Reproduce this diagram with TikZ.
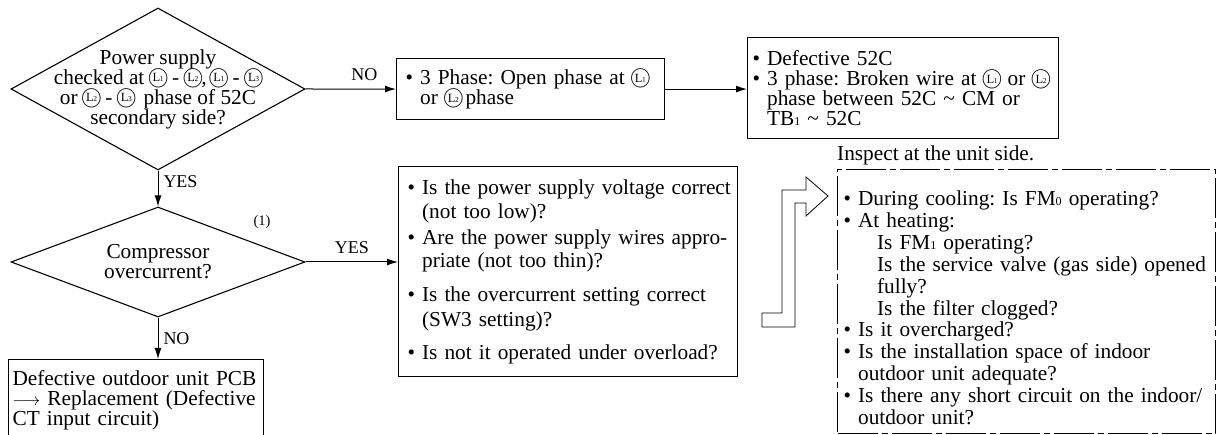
\documentclass[tikz,border=0pt]{standalone}
\usepackage{fontspec}
\setmainfont{Liberation Serif}
\usetikzlibrary{shapes.geometric,arrows.meta}
\frenchspacing

% circled phase letter, e.g. \cL1
\newcommand\cL[1]{\makebox[17pt]{\makebox[0pt]{\raisebox{1pt}{\fontsize{22}{22}\selectfont$\bigcirc$}}\makebox[0pt]{\raisebox{2.4pt}{\fontsize{12.5}{12.5}\selectfont L\kern-0.4pt{\fontsize{7.5}{7.5}\selectfont#1}}}}}
\newcommand\smallsub[1]{{\fontsize{12}{12}\selectfont#1}}
\newcommand\bulind{\phantom{\textbullet\ }}

\begin{document}
\begin{tikzpicture}[x=1pt,y=-1pt,
	every node/.style={font=\fontsize{21.3}{20}\selectfont},
	decision/.style={draw,diamond,line width=1.1pt,inner sep=0pt},
	infobox/.style={draw,line width=1.1pt,anchor=north west,align=left},
	arr/.style={line width=1pt,-{Latex[length=11pt,width=7pt]}},
	lbl/.style={font=\fontsize{18}{18}\selectfont,inner sep=2pt}]
	\path[use as bounding box] (0,0) rectangle (1216,435);
	% decisions
	\node[decision,minimum width=294pt,minimum height=162pt] (chk) at (158,89) {};
	\node[align=center] (chktxt) at (158,89) {Power supply\\checked at \cL1 - \cL2,\,\cL1 - \cL3\\or \cL2 - \cL3\, phase of 52C\\secondary side?};
	\node[decision,minimum width=294pt,minimum height=110pt] (cmp) at (158,262) {};
	\node[align=center] (cmptxt) at (158,262) {Compressor\\overcurrent?};
	\node[font=\fontsize{14.5}{14.5}\selectfont] (mark) at (262,222) {(1)};
	% boxes
	\node[infobox,text width=250pt,inner xsep=9pt,minimum height=61pt] (open) at (396,58)
		{\textbullet\ 3 Phase: Open phase at \cL1\\\bulind or \cL2\,phase};
	\node[infobox,text width=301pt,inner xsep=5pt,minimum height=101pt] (brk) at (747,37)
		{\textbullet\ Defective 52C\\
		\textbullet\ 3 phase: Broken wire at \cL1 or \cL2\\
		\bulind phase between 52C \textasciitilde\ CM or\\
		\bulind TB\smallsub1 \textasciitilde\ 52C};
	\node[infobox,text width=321pt,inner xsep=9pt,minimum height=210pt,font=\fontsize{21.3}{24}\selectfont] (pw) at (398,166)
		{\makebox[\hsize][s]{\textbullet\ Is the power supply voltage correct}\\
		\bulind(not too low)?\\[2pt]
		\makebox[\hsize][s]{\textbullet\ Are the power supply wires appro-}\\[-1pt]
		\bulind priate (not too thin)?\\[10pt]
		\makebox[\hsize][s]{\textbullet\ Is the overcurrent setting correct}\\[1pt]
		\bulind(SW3 setting)?\\[9pt]
		\textbullet\ Is not it operated under overload?};
	\node[infobox,text width=247pt,inner xsep=4pt,inner ysep=11pt] (pcb) at (8,359)
		{\mbox{Defective outdoor unit PCB}\\
		\mbox{{\fontsize{18}{18}\selectfont$\longrightarrow$} Replacement (Defective}\\
		CT input circuit)};
	\node[infobox,dash pattern=on 40pt off 4pt on 6pt off 4pt,text width=366pt,inner xsep=6pt,inner ysep=0pt,font=\fontsize{21.3}{21.9}\selectfont] (insp) at (837,169)
		{\rule{0pt}{36pt}\textbullet\ During cooling: Is FM\smallsub0 operating?\\
		\textbullet\ At heating:\\
		\bulind\hspace*{19pt}Is FM\smallsub1 operating?\\
		\bulind\hspace*{19pt}Is the service valve (gas side) opened\\
		\bulind\hspace*{19pt}fully?\\
		\bulind\hspace*{19pt}Is the filter clogged?\\
		\textbullet\ Is it overcharged?\\
		\textbullet\ Is the installation space of indoor\\
		\bulind outdoor unit adequate?\\
		\textbullet\ Is there any short circuit on the indoor/\\
		\bulind outdoor unit?\rule[-9pt]{0pt}{9pt}};
	\node[anchor=base west,inner sep=0pt] (insphead) at ([yshift=8pt]insp.north west) {Inspect at the unit side.};
	% connectors
	\draw[arr] (chk.south) -- (cmp.north) node[lbl,pos=0.3,right=3pt] {YES};
	\draw[arr] (chk.east) -- (open.west) node[lbl,pos=0.65,above=6pt] {NO};
	\draw[arr] (open.east) -- (open.east -| brk.west);
	\draw[arr] (cmp.east) -- (cmp.east -| pw.west) node[lbl,midway,above=6pt] {YES};
	\draw[arr] (cmp.south) -- (cmp.south |- pcb.north) node[lbl,midway,right=3pt] {NO};
	% hollow arrow to the unit side check
	\draw[line width=0.8pt] (762,313) -- (782,313) -- (782,190) -- (806,190) -- (806,177) -- (828,196)
		-- (806,216) -- (806,203) -- (795,203) -- (795,327) -- (762,327) -- cycle;
\end{tikzpicture}
\end{document}
